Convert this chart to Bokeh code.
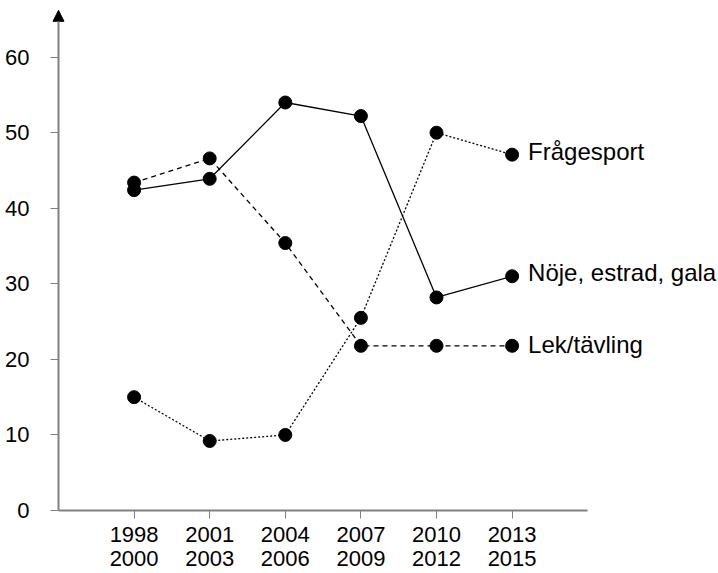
from bokeh.plotting import figure
from bokeh.models import FixedTicker, Range1d, Arrow, NormalHead, ColumnDataSource
from bokeh.core.properties import value
from bokeh.embed import file_html
from bokeh.resources import INLINE

periods = ["1998\n2000", "2001\n2003", "2004\n2006", "2007\n2009", "2010\n2012", "2013\n2015"]
noje = [42.4, 43.9, 54.0, 52.2, 28.2, 31.0]
lek = [43.4, 46.6, 35.4, 21.8, 21.8, 21.8]
fragesport = [15.0, 9.2, 10.0, 25.5, 50.0, 47.1]
series_names = ["Frågesport", "Nöje, estrad, gala", "Lek/tävling"]
y_ticks = [0, 10, 20, 30, 40, 50, 60]

FONT = "Liberation Sans"
xs = list(range(len(periods)))
AX_GRAY = "#808080"

p = figure(width=718, height=573, output_backend="svg", toolbar_location=None,
           x_range=Range1d(-1.1455, 7.73), y_range=Range1d(0, 67.5),
           min_border_left=47, min_border_right=0, min_border_top=0, min_border_bottom=63)
p.outline_line_color = None
p.xgrid.visible = False
p.ygrid.visible = False
p.background_fill_color = "white"

for ax in (p.xaxis[0], p.yaxis[0]):
    ax.axis_line_color = AX_GRAY
    ax.axis_line_width = 2
    ax.major_tick_line_color = AX_GRAY
    ax.major_tick_line_width = 1
    ax.minor_tick_line_color = None
    ax.major_label_text_font = FONT
    ax.major_label_text_font_size = "22px"
    ax.major_label_text_color = "black"

xa = p.xaxis[0]
xa.ticker = FixedTicker(ticks=xs)
xa.major_label_overrides = {i: lab for i, lab in enumerate(periods)}
xa.major_tick_in = 0
xa.major_tick_out = 8
xa.major_label_standoff = 3
xa.major_label_text_line_height = 0.977
xa.bounds = (-1, 6)

ya = p.yaxis[0]
ya.ticker = FixedTicker(ticks=y_ticks)
ya.axis_line_color = None
ya.major_tick_in = 11
ya.major_tick_out = -3
ya.major_label_standoff = 18

# vertical axis line with arrow head at x = -1 (the x axis start)
p.add_layout(Arrow(x_start=-1, y_start=0, x_end=-1, y_end=66.2, line_color=AX_GRAY, line_width=2,
                   end=NormalHead(size=11, fill_color="black", line_color="black", line_width=1)))

styles = [(fragesport, "2 2", -3), (noje, "solid", -4), (lek, "5 4", -1)]
for (vals, dash, yoff), name in zip(styles, series_names):
    p.line(xs, vals, line_color="black", line_width=1.3, line_dash=dash)
    p.scatter(xs, vals, size=13, fill_color="black", line_color="black")
    src = ColumnDataSource(dict(x=[xs[-1]], y=[vals[-1]], t=[name]))
    p.text(x="x", y="y", text="t", source=src, x_offset=16, y_offset=yoff, text_baseline="middle",
           text_font=value(FONT), text_font_size="24px", text_color="black")

open("out.html", "w").write(file_html(p, INLINE))
